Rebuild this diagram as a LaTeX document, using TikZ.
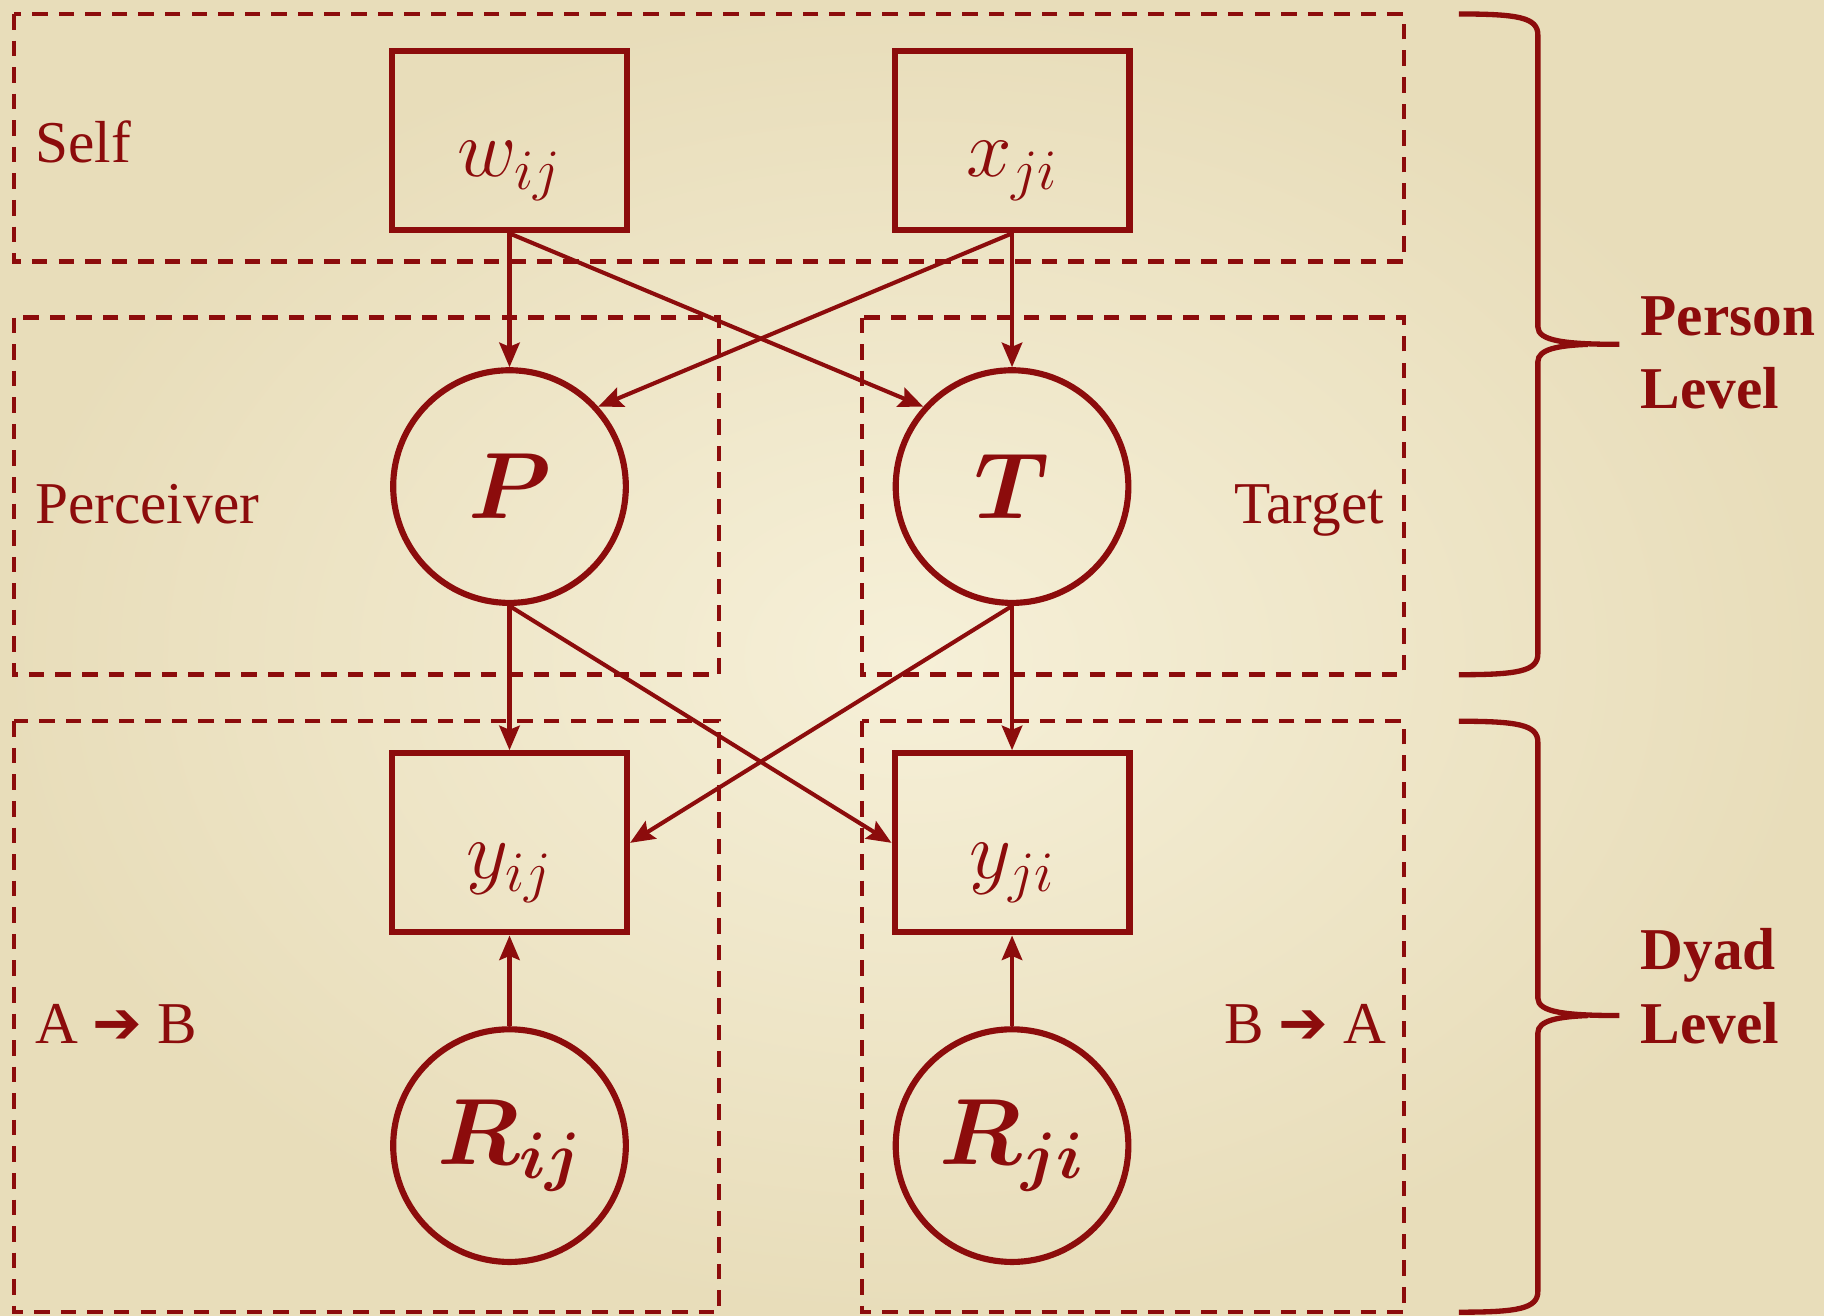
\RequirePackage{fix-cm}
\documentclass[tikz,border=0pt]{standalone}
\usepackage{amsmath, bm}
\usepackage{fontspec}
\setmainfont{Liberation Serif}
\newfontfamily\arrowfont{DejaVu Sans}
\usetikzlibrary{arrows.meta, positioning}

\definecolor{maroon}{RGB}{140,12,12}
\definecolor{paperlight}{RGB}{246,240,216}
\definecolor{paperdark}{RGB}{232,221,186}

\begin{document}
\begin{tikzpicture}[
          obs/.style={rectangle, draw=maroon, line width=3pt,
                      minimum width=4.04cm, minimum height=3.08cm,
                      text height=1.6cm, text depth=0.36cm,
                      text=maroon, font=\fontsize{40}{40}\selectfont},
          lat/.style={circle, draw=maroon, line width=3pt,
                      minimum size=4cm, inner sep=0pt,
                      text=maroon, font=\fontsize{46}{46}\selectfont},
          zone/.style={draw=maroon, line width=2.2pt,
                       dash pattern=on 7.6pt off 5.4pt},
          lbl/.style={text=maroon, inner sep=0pt,
                      font=\fontsize{29}{36}\selectfont},
          lvl/.style={lbl, align=left,
                      font=\fontsize{29}{36}\selectfont\bfseries},
          arr/.style={-{Stealth[length=12pt, width=10pt, inset=2pt]},
                      draw=maroon, line width=2pt},
          brc/.style={draw=maroon, line width=2.6pt},
        ]
          % paper
          \useasboundingbox (0,0) rectangle (31.36,-22.62);
          \shade[inner color=paperlight, outer color=paperdark]
                (0,0) rectangle (31.36,-22.62);

          % dashed regions
          \draw[zone] (0.24,-0.24)  rectangle (24.14,-4.5);
          \draw[zone] (0.24,-5.46)  rectangle (12.36,-11.6);
          \draw[zone] (14.82,-5.46) rectangle (24.14,-11.6);
          \draw[zone] (0.24,-12.4)  rectangle (12.36,-22.56);
          \draw[zone] (14.82,-12.4) rectangle (24.14,-22.56);

          % left column
          \node[obs] (w) at (8.76,-2.42) {$w_{ij}$};
          \node[lat, below=2.3cm of w]    (P)   {$\bm{P}$};
          \node[obs, below=2.48cm of P]   (yij) {$y_{ij}$};
          \node[lat, below=1.56cm of yij] (Rij) {$\bm{R_{ij}}$};

          % right column
          \node[obs] (x) at (17.4,-2.42) {$x_{ji}$};
          \node[lat, below=2.3cm of x]    (T)   {$\bm{T}$};
          \node[obs, below=2.48cm of T]   (yji) {$y_{ji}$};
          \node[lat, below=1.56cm of yji] (Rji) {$\bm{R_{ji}}$};

          % region labels
          \node[lbl, anchor=base west] (self) at (0.6,-2.8)   {Self};
          \node[lbl, anchor=base west] (perc) at (0.6,-9.0)   {Perceiver};
          \node[lbl, anchor=base east] (targ) at (23.8,-9.0)  {Target};
          \node[lbl, anchor=base west] (ab)   at (0.6,-17.94)
                {A {\arrowfont ➔} B};
          \node[lbl, anchor=base east] (ba)   at (23.84,-17.94)
                {B {\arrowfont ➔} A};

          % paths
          \draw[arr] (w.south) -- (P.north);
          \draw[arr] (w.south) -- (T.138);
          \draw[arr] (x.south) -- (T.north);
          \draw[arr] (x.south) -- (P.42);
          \draw[arr] (P.south) -- (yij.north);
          \draw[arr] (P.south) -- (yji.west);
          \draw[arr] (T.south) -- (yji.north);
          \draw[arr] (T.south) -- (yij.east);
          \draw[arr] (Rij.north) -- (yij.south);
          \draw[arr] (Rji.north) -- (yji.south);

          % braces
          \draw[brc] (25.08,-0.24) .. controls (26.1,-0.24) and (26.44,-0.3)
                .. (26.44,-0.6) -- (26.44,-5.62)
                .. controls (26.44,-5.86) and (26.9,-5.92) .. (27.84,-5.92);
          \draw[brc] (27.3,-5.92) .. controls (26.8,-5.94) and (26.44,-6.0)
                .. (26.44,-6.22) -- (26.44,-11.24)
                .. controls (26.44,-11.54) and (26.1,-11.6) .. (25.08,-11.6);
          \draw[brc] (25.08,-12.4) .. controls (26.1,-12.4) and (26.44,-12.46)
                .. (26.44,-12.76) -- (26.44,-17.16)
                .. controls (26.44,-17.4) and (26.9,-17.46) .. (27.84,-17.46);
          \draw[brc] (27.3,-17.46) .. controls (26.8,-17.48) and (26.44,-17.54)
                .. (26.44,-17.76) -- (26.44,-22.2)
                .. controls (26.44,-22.5) and (26.1,-22.56) .. (25.08,-22.56);

          \node[lvl, anchor=west] (pers) at (28.2,-6.07)  {Person\\Level};
          \node[lvl, anchor=west] (dyad) at (28.2,-16.96) {Dyad\\Level};
        \end{tikzpicture}
\end{document}
